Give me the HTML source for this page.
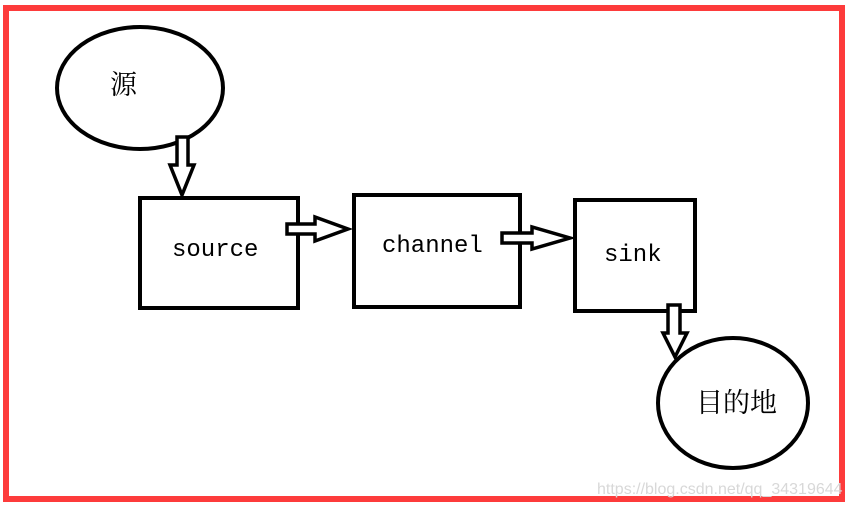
<html><body style="margin:0;background:#fff">
<svg width="850" height="505" xmlns="http://www.w3.org/2000/svg" style="display:block">
<rect x="6" y="8" width="836" height="491" fill="none" stroke="#fd3b3b" stroke-width="6"/>
<g fill="none" stroke="#000" stroke-width="4">
<ellipse cx="140" cy="88" rx="83" ry="61"/>
<rect x="140" y="198" width="158" height="110"/>
<rect x="354" y="195" width="166" height="112"/>
<rect x="575" y="200" width="120" height="111"/>
<ellipse cx="733" cy="403" rx="75" ry="65"/>
</g>
<g fill="#fff" stroke="#000" stroke-width="3.5" stroke-linejoin="miter">
<path d="M177,137 H188 V165 H194 L182,195 L170,165 H177 Z"/>
<path d="M287,224 H315 V217 L348,229 L315,241 V234 H287 Z"/>
<path d="M502,233 H532 V227 L570,238 L532,249 V243 H502 Z"/>
<path d="M668,305 H680 V333 H687 L675,357 L663,333 H668 Z"/>
</g>
<g font-family="Liberation Mono, monospace" font-size="24" fill="#000">
<text x="172" y="256">source</text>
<text x="382" y="252">channel</text>
<text x="604" y="261">sink</text>
</g>
<g font-family="Liberation Serif, Noto Serif CJK SC, serif" font-size="27" fill="#000">
<text x="110" y="94">源</text>
<text x="696" y="412">目的地</text>
</g>
<text x="597" y="494" font-family="Liberation Sans, sans-serif" font-size="16" fill="#d8d8d8">https://blog.csdn.net/qq_34319644</text>
</svg>
</body></html>
